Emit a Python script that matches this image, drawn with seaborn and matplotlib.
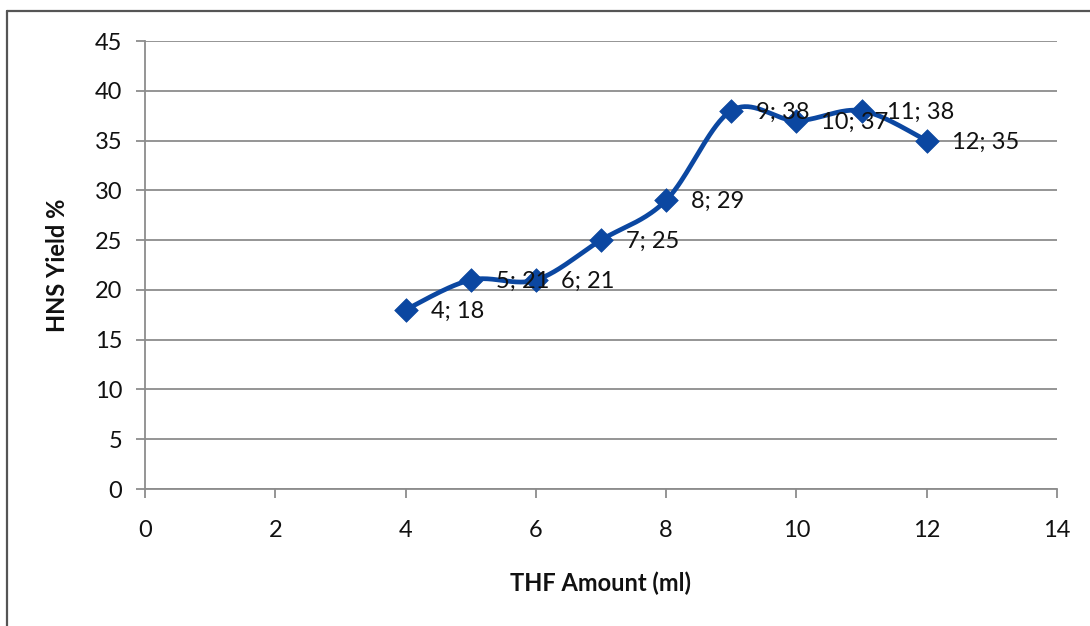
import numpy as np
import pandas as pd
import matplotlib
matplotlib.use("Agg")
import matplotlib.pyplot as plt
from matplotlib.lines import Line2D
import seaborn as sns

# THF amount (ml) vs HNS yield (%)
thf_ml = [4, 5, 6, 7, 8, 9, 10, 11, 12]
hns_yield = [18, 21, 21, 25, 29, 38, 37, 38, 35]
x_ticks = [0, 2, 4, 6, 8, 10, 12, 14]
y_ticks = [0, 5, 10, 15, 20, 25, 30, 35, 40, 45]

LINE_COLOR = "#0B47A1"
GRID_COLOR = "#8C8C8C"
TEXT_COLOR = "#111111"
FONT = ["Lato", "DejaVu Sans"]


def smooth_curve(xs, ys, steps=40):
    """Cubic Bezier smoothing through every point (Catmull-Rom style tangents)."""
    px = np.asarray(xs, float)
    py = np.asarray(ys, float)
    n = len(px)
    out_x, out_y = [], []
    t = np.linspace(0, 1, steps)
    for i in range(n - 1):
        p0 = np.array([px[max(i - 1, 0)], py[max(i - 1, 0)]])
        p1 = np.array([px[i], py[i]])
        p2 = np.array([px[i + 1], py[i + 1]])
        p3 = np.array([px[min(i + 2, n - 1)], py[min(i + 2, n - 1)]])
        c1 = p1 + (p2 - p0) / 6.0
        c2 = p2 - (p3 - p1) / 6.0
        b = ((1 - t) ** 3)[:, None] * p1 + (3 * (1 - t) ** 2 * t)[:, None] * c1 \
            + (3 * (1 - t) * t ** 2)[:, None] * c2 + (t ** 3)[:, None] * p2
        if i > 0:
            b = b[1:]
        out_x.extend(b[:, 0])
        out_y.extend(b[:, 1])
    return np.array(out_x), np.array(out_y)


sns.set_theme(style="white")
plt.rcParams["font.family"] = FONT

fig = plt.figure(figsize=(10.9, 6.26), dpi=100)
ax = fig.add_axes([0.133, 0.2188, 0.8367, 0.7157])

points = pd.DataFrame({"thf": thf_ml, "yield": hns_yield})
cx, cy = smooth_curve(thf_ml, hns_yield)
curve = pd.DataFrame({"thf": cx, "yield": cy})

sns.lineplot(data=curve, x="thf", y="yield", ax=ax, color=LINE_COLOR,
             linewidth=3.4, sort=False, estimator=None, zorder=3)
sns.scatterplot(data=points, x="thf", y="yield", ax=ax, marker="D",
                s=145, color=LINE_COLOR, edgecolor=LINE_COLOR, linewidth=0.5,
                zorder=4)

for xv, yv in zip(thf_ml, hns_yield):
    ax.annotate(f"{xv}; {yv}", xy=(xv, yv), xytext=(18, -1),
                textcoords="offset points", ha="left", va="center",
                fontsize=17, color=TEXT_COLOR, zorder=5)

ax.set_xlim(0, 14)
ax.set_ylim(0, 45)
ax.set_xticks(x_ticks)
ax.set_yticks(y_ticks)
ax.set_xticklabels([str(v) for v in x_ticks], fontsize=17, color=TEXT_COLOR)
ax.set_yticklabels([str(v) for v in y_ticks], fontsize=17, color=TEXT_COLOR)

ax.yaxis.grid(True, color=GRID_COLOR, linewidth=1.3)
ax.xaxis.grid(False)
ax.set_axisbelow(True)

for side in ("top", "right"):
    ax.spines[side].set_visible(False)
for side in ("left", "bottom"):
    ax.spines[side].set_color(GRID_COLOR)
    ax.spines[side].set_linewidth(1.3)

ax.tick_params(axis="both", which="major", direction="out", length=6.5,
               width=1.3, color=GRID_COLOR, left=True, bottom=True)
ax.tick_params(axis="y", pad=10)
ax.tick_params(axis="x", pad=16)

ax.set_xlabel("THF Amount (ml)", fontsize=17, fontweight="bold",
              color=TEXT_COLOR, labelpad=22)
ax.set_ylabel("HNS Yield %", fontsize=17, fontweight="bold",
              color=TEXT_COLOR, labelpad=18)

# chart-area frame: left and top edges
fig.add_artist(Line2D([7 / 1090, 7 / 1090], [0, 1 - 11 / 626],
                      transform=fig.transFigure, color="#555555", linewidth=1.6))
fig.add_artist(Line2D([7 / 1090, 1], [1 - 11 / 626, 1 - 11 / 626],
                      transform=fig.transFigure, color="#555555", linewidth=1.6))

fig.savefig("out.png", dpi=100)
